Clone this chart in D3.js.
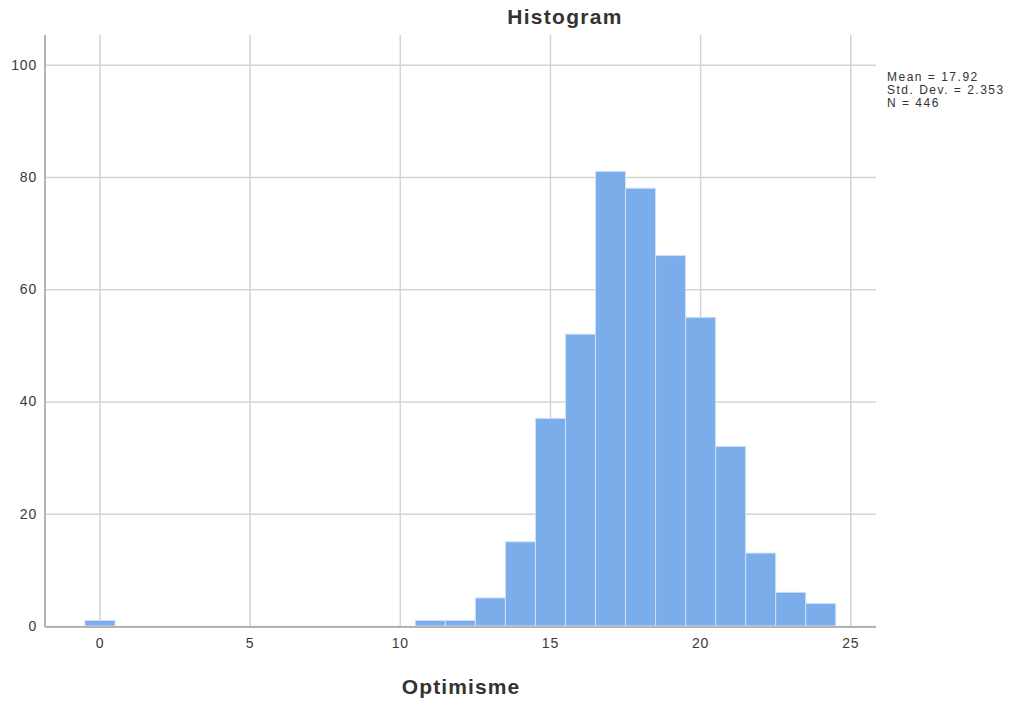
<!DOCTYPE html>
<html><head><meta charset="utf-8">
<script src="https://cdn.jsdelivr.net/npm/d3@7"></script>
<style>body{margin:0;background:#fff;font-family:"Liberation Sans",Arial,sans-serif;}</style>
</head><body><svg id="c" width="1016" height="704"></svg>
<script>
const binCenters = [0, 11, 12, 13, 14, 15, 16, 17, 18, 19, 20, 21, 22, 23, 24];
const counts     = [1, 1, 1, 5, 15, 37, 52, 81, 78, 66, 55, 32, 13, 6, 4];
const xTicks = [0, 5, 10, 15, 20, 25];
const yTicks = [0, 20, 40, 60, 80, 100];
const statsLines = ["Mean = 17.92", "Std. Dev. = 2.353", "N = 446"];
const title = "Histogram";
const xLabel = "Optimisme";

const svg = d3.select("#c");
const L = 45, R = 876, T = 35, B = 627;
const x = d3.scaleLinear().domain([-1.83, 25.84]).range([L, R]);
const y = d3.scaleLinear().domain([0, 105.3]).range([626, T]);

// grid
svg.append("g").selectAll("line").data(yTicks).join("line")
  .attr("x1", L).attr("x2", R).attr("y1", d => y(d) + 0.5).attr("y2", d => y(d) + 0.5)
  .attr("stroke", "#d3d3d3").attr("stroke-width", 1.5);
svg.append("g").selectAll("line").data(xTicks).join("line")
  .attr("y1", T).attr("y2", B).attr("x1", d => x(d)).attr("x2", d => x(d))
  .attr("stroke", "#d3d3d3").attr("stroke-width", 1.5);

// bars
svg.append("g").selectAll("rect").data(binCenters).join("rect")
  .attr("x", (d) => x(d - 0.5))
  .attr("width", x(1) - x(0))
  .attr("y", (d, i) => y(counts[i]))
  .attr("height", (d, i) => y(0) - y(counts[i]))
  .attr("fill", "#7badea")
  .attr("stroke", "#cfe0f7").attr("stroke-width", 1);

// axes lines
svg.append("line").attr("x1", L).attr("x2", L).attr("y1", T).attr("y2", B)
  .attr("stroke", "#b4b4b4").attr("stroke-width", 2);
svg.append("line").attr("x1", L).attr("x2", R).attr("y1", B).attr("y2", B)
  .attr("stroke", "#b4b4b4").attr("stroke-width", 2);

// tick labels
svg.append("g").selectAll("text").data(yTicks).join("text")
  .attr("x", 37).attr("y", d => y(d)).attr("dy", "0.35em")
  .attr("text-anchor", "end").attr("font-size", 14).attr("letter-spacing", 0.8).attr("fill", "#3a3a3a")
  .text(d => d);
svg.append("g").selectAll("text").data(xTicks).join("text")
  .attr("x", d => x(d)).attr("y", 648)
  .attr("text-anchor", "middle").attr("font-size", 14).attr("letter-spacing", 0.8).attr("fill", "#3a3a3a")
  .text(d => d);

// titles
svg.append("text").attr("x", 565).attr("y", 24).attr("text-anchor", "middle")
  .attr("font-size", 21).attr("letter-spacing", 1.3).attr("font-weight", "bold").attr("fill", "#333").text(title);
svg.append("text").attr("x", 461).attr("y", 694).attr("text-anchor", "middle")
  .attr("font-size", 21).attr("letter-spacing", 1.1).attr("font-weight", "bold").attr("fill", "#333").text(xLabel);

// stats
svg.append("g").selectAll("text").data(statsLines).join("text")
  .attr("x", 887).attr("y", (d, i) => 81 + i * 12.8)
  .attr("font-size", 12).attr("letter-spacing", 1.5).attr("fill", "#333").text(d => d);
</script></body></html>
